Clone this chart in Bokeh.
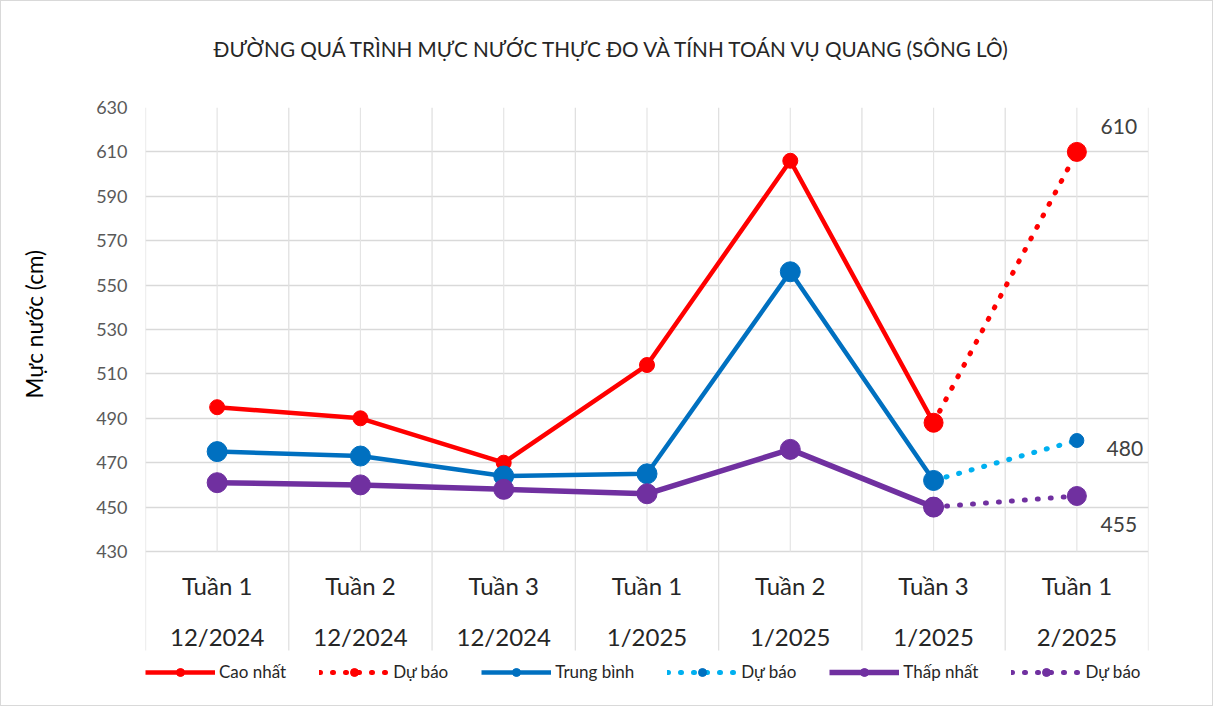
import numpy as np
from bokeh.plotting import figure
from bokeh.models import (FixedTicker, Legend, LegendItem, Range1d, Title)
from bokeh.core.properties import value
from bokeh.embed import file_html
from bokeh.resources import INLINE

# ---------------- data ----------------
weeks = ["Tuần 1", "Tuần 2", "Tuần 3", "Tuần 1", "Tuần 2", "Tuần 3", "Tuần 1"]
months = ["12/2024", "12/2024", "12/2024", "1/2025", "1/2025", "1/2025", "2/2025"]
cao_nhat = [495, 490, 470, 514, 606, 488, None]
cao_nhat_du_bao = [None, None, None, None, None, 488, 610]
trung_binh = [475, 473, 464, 465, 556, 462, None]
trung_binh_du_bao = [None, None, None, None, None, 462, 480]
thap_nhat = [461, 460, 458, 456, 476, 450, None]
thap_nhat_du_bao = [None, None, None, None, None, 450, 455]
y_ticks = [430, 450, 470, 490, 510, 530, 550, 570, 590, 610, 630]
title_text = "ĐƯỜNG QUÁ TRÌNH MỰC NƯỚC THỰC ĐO VÀ TÍNH TOÁN VỤ QUANG (SÔNG LÔ)"
y_label = "Mực nước (cm)"

FONT = "Lato"
GRID = "#D9D9D9"
n = len(weeks)
xs = np.arange(n) + 0.5

# layout (pixels)
PLOT_H = 444          # height of the value area (430..630)
FRAME_H = 593         # value area + category band + legend band
CAT_BAND = 99         # height of the category label band
ppu = PLOT_H / (y_ticks[-1] - y_ticks[0])
y_lo = y_ticks[0] - (FRAME_H - PLOT_H) / ppu
cat_bottom = y_ticks[0] - CAT_BAND / ppu

p = figure(x_range=Range1d(0, n), y_range=Range1d(y_lo, y_ticks[-1]),
           frame_width=1003, frame_height=FRAME_H,
           min_border_left=144, min_border_right=64, min_border_top=106,
           min_border_bottom=5,
           x_axis_location=None, output_backend="svg", toolbar_location=None)
p.title_location = None
p.outline_line_color = None
p.background_fill_color = "white"
p.border_fill_color = "white"
p.styles = {"border": "1px solid #D9D9D9"}

# title (an empty second line keeps it clear of the plot area)
p.add_layout(Title(text=title_text + "\n", align="left", vertical_align="top",
                   text_font=FONT, text_font_size="20.7px", text_font_style="normal",
                   text_color="#262626", offset=68, standoff=42), "above")

# grids
p.ygrid.ticker = FixedTicker(ticks=y_ticks)
p.ygrid.grid_line_color = GRID
p.ygrid.grid_line_width = 1.5
for g in p.xgrid:
    g.visible = False
# vertical grid lines: category centres (value area only) and boundaries (down through label band)
bounds = np.arange(n + 1)
p.segment(x0=xs, y0=[y_ticks[0]] * n, x1=xs, y1=[y_ticks[-1]] * n,
          line_color="#E4E4E4", line_width=1.2)
p.segment(x0=bounds, y0=[cat_bottom] * (n + 1), x1=bounds, y1=[y_ticks[-1]] * (n + 1),
          line_color="#E0E0E0", line_width=1.3)

# y axis
ya = p.yaxis[0]
ya.ticker = FixedTicker(ticks=y_ticks)
ya.axis_line_color = None
ya.major_tick_line_color = None
ya.minor_tick_line_color = None
ya.major_label_text_font = FONT
ya.major_label_text_font_size = "18px"
ya.major_label_text_color = "#595959"
ya.major_label_standoff = 12

# y axis title, placed alongside the value area
p.add_layout(Title(text=y_label + "\n", align="left", vertical_align="top",
                   offset=302, standoff=34,
                   text_font=FONT, text_font_size="22.5px",
                   text_font_style="normal", text_color="#000000"), "left")

# category labels (two rows)
p.text(x=xs, y=[y_ticks[0]] * n, text=weeks, y_offset=34,
       text_font=value(FONT), text_font_size="24px", text_color="#262626",
       text_align="center", text_baseline="middle")
p.text(x=xs, y=[y_ticks[0]] * n, text=months, y_offset=85,
       text_font=value(FONT), text_font_size="24px", text_color="#262626",
       text_align="center", text_baseline="middle")

# ---------------- series ----------------
def arr(v):
    return np.array(v, dtype=float)

RED = "#FF0000"
BLUE = "#0070C0"
LBLUE = "#00B0F0"
PURPLE = "#7030A0"

r1l = p.line(xs, arr(cao_nhat), line_color=RED, line_width=4.5)
r1s = p.scatter(xs, arr(cao_nhat), size=15, fill_color=RED, line_color=RED)
r2l = p.line(xs, arr(cao_nhat_du_bao), line_color=RED, line_width=5,
             line_dash="1 12", line_cap="round")
r2s = p.scatter(xs, arr(cao_nhat_du_bao), size=19, fill_color=RED, line_color=RED)

b1l = p.line(xs, arr(trung_binh), line_color=BLUE, line_width=4.5)
b1s = p.scatter(xs, arr(trung_binh), size=20, fill_color=BLUE, line_color=BLUE)
b2l = p.line(xs, arr(trung_binh_du_bao), line_color=LBLUE, line_width=5,
             line_dash="1 12", line_cap="round")
b2s = p.scatter(xs, arr(trung_binh_du_bao), size=14, fill_color=BLUE, line_color=BLUE)

t1l = p.line(xs, arr(thap_nhat), line_color=PURPLE, line_width=5.5)
t1s = p.scatter(xs, arr(thap_nhat), size=20, fill_color=PURPLE, line_color=PURPLE)
t2l = p.line(xs, arr(thap_nhat_du_bao), line_color=PURPLE, line_width=5,
             line_dash="1 12", line_cap="round")
t2s = p.scatter(xs, arr(thap_nhat_du_bao), size=19, fill_color=PURPLE, line_color=PURPLE)

# data labels for the forecast end points
lab_vals = [cao_nhat_du_bao[-1], trung_binh_du_bao[-1], thap_nhat_du_bao[-1]]
p.text(x=[xs[-1]] * 3, y=lab_vals, text=[str(v) for v in lab_vals],
       x_offset=[42, 48, 42], y_offset=[-25, 8, 28],
       text_font=value(FONT), text_font_size="21px", text_color="#404040",
       text_align="center", text_baseline="middle")

# legend
items = [
    LegendItem(label="Cao nhất", renderers=[r1l, r1s]),
    LegendItem(label="Dự báo", renderers=[r2l, r2s]),
    LegendItem(label="Trung bình", renderers=[b1l, b1s]),
    LegendItem(label="Dự báo", renderers=[b2l, b2s]),
    LegendItem(label="Thấp nhất", renderers=[t1l, t1s]),
    LegendItem(label="Dự báo", renderers=[t2l, t2s]),
]
legend = Legend(items=items, orientation="horizontal", location=(0, 18),
                glyph_width=70, glyph_height=20, label_standoff=4, spacing=33,
                padding=0, margin=0, border_line_color=None,
                background_fill_alpha=0, label_text_font=FONT,
                label_text_font_size="17px", label_text_color="#262626")
p.add_layout(legend, "center")

open("out.html", "w").write(file_html(p, INLINE))
